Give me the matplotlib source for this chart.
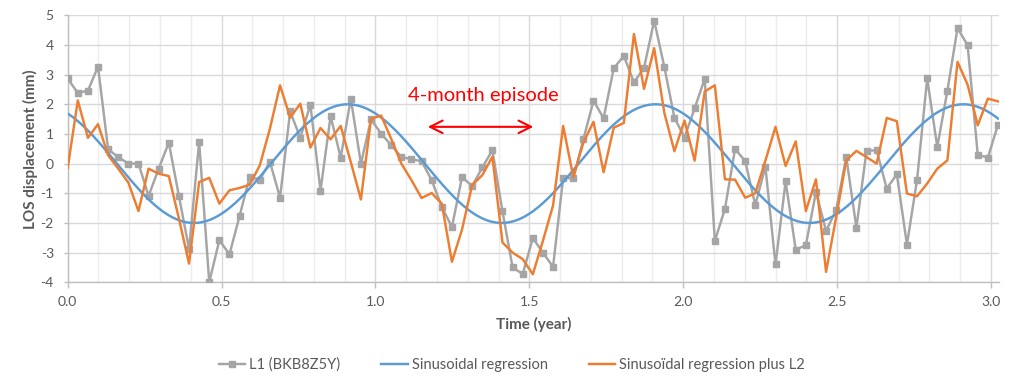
import numpy as np
import matplotlib
matplotlib.use("Agg")
import matplotlib.pyplot as plt
from matplotlib.ticker import MultipleLocator, FormatStrFormatter
from matplotlib.lines import Line2D

plt.rcParams['font.family'] = ['Lato', 'DejaVu Sans']

# ---- data ----
sample_interval_days = 12
l1_values = [2.87, 2.38, 2.46, 3.27, 0.48, 0.22, 0.00, 0.00, -1.09, -0.17,
             0.71, -1.09, -2.88, 0.73, -4.00, -2.58, -3.06, -1.76, -0.45, -0.54,
             0.06, -1.15, 1.76, 0.87, 1.99, -0.91, 1.60, 0.20, 2.19, 0.00,
             1.49, 1.01, 0.62, 0.22, 0.15, 0.08, -0.56, -1.46, -2.14, -0.45,
             -0.76, -0.13, 0.45, -1.61, -3.50, -3.72, -2.51, -3.00, -3.48, -0.48,
             -0.50, 0.82, 2.12, 1.53, 3.21, 3.63, 2.74, 3.23, 4.82, 3.27,
             1.55, 0.88, 1.86, 2.86, -2.61, -1.52, 0.49, 0.09, -1.40, -0.10,
             -3.40, -0.60, -2.90, -2.75, -0.96, -2.27, -1.56, 0.22, -2.16, 0.43,
             0.45, -0.84, -0.36, -2.73, -0.54, 2.87, 0.56, 2.46, 4.57, 3.99,
             0.30, 0.20, 1.31]
sin_plus_l2_values = [-0.15, 2.13, 0.87, 1.33, 0.28, -0.17, -0.64, -1.60, -0.17, -0.34,
                      -0.42, -1.85, -3.37, -0.62, -0.48, -1.35, -0.90, -0.82, -0.71, -0.06,
                      1.18, 2.64, 1.55, 2.02, 0.54, 1.20, 0.82, 1.27, 0.05, -1.21,
                      1.51, 1.62, 0.83, 0.00, -0.56, -1.16, -0.99, -1.35, -3.31, -2.22,
                      -0.72, -0.39, 0.23, -2.66, -3.00, -3.22, -3.73, -2.60, -1.41, 1.27,
                      -0.45, 0.71, 1.41, -0.29, 1.21, 1.37, 4.37, 2.52, 3.89, 1.72,
                      0.42, 1.45, 0.10, 2.43, 2.64, -0.53, -0.54, -1.15, -1.00, 0.10,
                      1.24, -0.08, 0.75, -1.60, -0.53, -3.65, -1.80, 0.11, 0.43, 0.22,
                      0.00, 1.54, 1.43, -1.01, -1.10, -0.67, -0.17, 0.11, 3.43, 2.66,
                      1.29, 2.19, 2.10]
# sinusoidal regression parameters
sin_amplitude = 2.0
sin_peak_year = 0.91
sin_period_year = 1.0

series_labels = ['L1 (BKB8Z5Y)', 'Sinusoidal regression', 'Sinusoïdal regression plus L2']
episode_label = '4-month episode'
episode_start, episode_end = 1.17, 1.513

# ---- derived ----
time_year = np.arange(len(l1_values)) * sample_interval_days / 365.25
t_fine = np.linspace(0, time_year[-1], 600)
sin_fit = sin_amplitude * np.cos(2 * np.pi * (t_fine - sin_peak_year) / sin_period_year)

GRAY = '#A5A5A5'
BLUE = '#5B9BD5'
ORANGE = '#ED7D31'
TXT = '#595959'

fig = plt.figure(figsize=(10.24, 3.9), dpi=100)
ax = fig.add_axes([0.0661, 0.2762, 0.9095, 0.6846])

ax.plot(time_year, l1_values, color=GRAY, lw=1.75, marker='s', markersize=5,
        markerfacecolor=GRAY, markeredgecolor=GRAY, zorder=3)
ax.plot(t_fine, sin_fit, color=BLUE, lw=1.75, zorder=4)
ax.plot(time_year, sin_plus_l2_values, color=ORANGE, lw=1.75, zorder=5)

ax.set_xlim(0, 3.026)
ax.set_ylim(-4, 5)
ax.xaxis.set_major_locator(MultipleLocator(0.5))
ax.xaxis.set_minor_locator(MultipleLocator(0.1))
ax.yaxis.set_major_locator(MultipleLocator(1))
ax.xaxis.set_major_formatter(FormatStrFormatter('%.1f'))
ax.yaxis.set_major_formatter(FormatStrFormatter('%d'))

ax.grid(which='major', axis='y', color='#D9D9D9', lw=1.0, zorder=0)
ax.grid(which='major', axis='x', color='#D9D9D9', lw=1.0, zorder=0)
ax.grid(which='minor', axis='x', color='#EDEDED', lw=1.0, zorder=0)
ax.set_axisbelow(True)

for s in ['top', 'right']:
    ax.spines[s].set_visible(False)
for s in ['left', 'bottom']:
    ax.spines[s].set_color('#BFBFBF')
    ax.spines[s].set_linewidth(1.0)

ax.tick_params(axis='both', which='major', direction='out', length=4, width=1,
               color='#BFBFBF', labelcolor=TXT, labelsize=10)
ax.tick_params(axis='x', which='major', pad=6)
ax.tick_params(axis='y', which='major', pad=7, length=3)
ax.tick_params(axis='x', which='minor', length=0)

ax.set_xlabel('Time (year)', fontsize=11, fontweight='bold', color=TXT, labelpad=6)
ax.set_ylabel('LOS displacement (mm)', fontsize=11, fontweight='bold', color=TXT, labelpad=2)

ax.annotate('', xy=(episode_start, 1.24), xytext=(episode_end, 1.24),
            arrowprops=dict(arrowstyle='<->,head_length=0.6,head_width=0.3',
                            color='red', lw=1.5, shrinkA=0, shrinkB=0, mutation_scale=15),
            zorder=6)
ax.text((episode_start + episode_end) / 2 + 0.01, 2.31, episode_label, color='red',
        fontsize=14.5, ha='center', va='center', zorder=6)

handles = [
    Line2D([], [], color=GRAY, lw=1.75, marker='s', markersize=5),
    Line2D([], [], color=BLUE, lw=1.75),
    Line2D([], [], color=ORANGE, lw=1.75),
]
fig.legend(handles, series_labels, loc='center', bbox_to_anchor=(0.5, 0.064),
           ncol=3, frameon=False, fontsize=10.5, handlelength=1.8, handletextpad=0.3,
           columnspacing=2.8, labelcolor=TXT)

fig.savefig('out.png', dpi=100)
